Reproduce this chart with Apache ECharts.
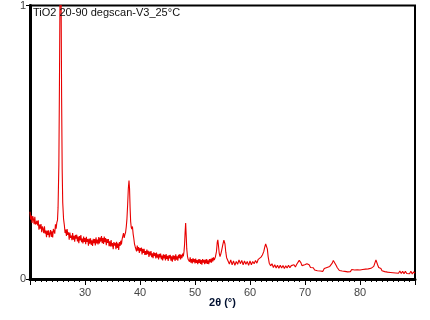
<!DOCTYPE html>
<html>
<head>
<meta charset="utf-8">
<script src="https://cdn.jsdelivr.net/npm/echarts@6/dist/echarts.min.js"></script>
<style>
html,body{margin:0;padding:0;background:#fff;}
#chart{width:430px;height:320px;}
</style>
</head>
<body>
<div id="chart"></div>
<script>
// Chart text
const sampleTitle = 'TiO2 20-90 degscan-V3_25°C';
const xAxisName = '2θ (°)';
// Axis ranges / ticks
const xRange = [20, 90];
const xTickStep = 10;
const yRange = [0, 1];
const yTickStep = 1;
// Diffraction scan: [2θ (deg), normalised intensity]
const scan = [
[20.000,0.246],[20.125,0.217],[20.250,0.232],[20.375,0.205],[20.500,0.230],[20.625,0.219],[20.750,0.200],[20.875,0.227],
[21.000,0.199],[21.125,0.193],[21.250,0.213],[21.375,0.196],[21.500,0.215],[21.625,0.180],[21.750,0.199],[21.875,0.184],
[22.000,0.201],[22.125,0.171],[22.250,0.192],[22.375,0.183],[22.500,0.168],[22.625,0.193],[22.750,0.166],[22.875,0.177],
[23.000,0.153],[23.125,0.177],[23.250,0.161],[23.375,0.178],[23.500,0.152],[23.625,0.167],[23.750,0.179],[23.875,0.154],
[24.000,0.174],[24.125,0.152],[24.250,0.183],[24.375,0.178],[24.500,0.166],[24.625,0.200],[24.750,0.184],[24.875,0.206],
[25.000,0.215],[25.10,0.26],[25.25,0.42],[25.35,0.70],[25.45,1.02],[25.55,1.20],[25.65,1.05],[25.75,0.66],
[25.85,0.40],[25.95,0.28],[26.10,0.22],
[26.250,0.196],[26.375,0.168],[26.500,0.181],[26.625,0.157],[26.750,0.183],[26.875,0.161],[27.000,0.171],[27.125,0.144],
[27.250,0.170],[27.375,0.150],[27.500,0.159],[27.625,0.142],[27.750,0.168],[27.875,0.144],[28.000,0.158],[28.125,0.136],
[28.250,0.161],[28.375,0.148],[28.500,0.162],[28.625,0.137],[28.750,0.155],[28.875,0.131],[29.000,0.157],[29.125,0.141],
[29.250,0.161],[29.375,0.135],[29.500,0.148],[29.625,0.130],[29.750,0.155],[29.875,0.136],[30.000,0.150],[30.125,0.127],
[30.250,0.154],[30.375,0.136],[30.500,0.146],[30.625,0.122],[30.750,0.148],[30.875,0.129],[31.000,0.149],[31.125,0.125],
[31.250,0.141],[31.375,0.121],[31.500,0.147],[31.625,0.131],[31.750,0.146],[31.875,0.123],[32.000,0.152],[32.125,0.130],
[32.250,0.144],[32.375,0.126],[32.500,0.153],[32.625,0.130],[32.750,0.151],[32.875,0.137],[33.000,0.157],[33.125,0.131],
[33.250,0.150],[33.375,0.128],[33.500,0.155],[33.625,0.135],[33.750,0.150],[33.875,0.124],[34.000,0.146],[34.125,0.132],
[34.250,0.146],[34.375,0.120],[34.500,0.138],[34.625,0.119],[34.750,0.142],[34.875,0.119],[35.000,0.131],[35.125,0.109],
[35.250,0.135],[35.375,0.122],[35.500,0.132],[35.625,0.109],[35.750,0.136],[35.875,0.114],[36.000,0.130],[36.125,0.106],
[36.250,0.135],[36.375,0.121],[36.500,0.140],[36.625,0.126],[36.750,0.146],
[36.875,0.152],[37.000,0.168],[37.125,0.150],[37.250,0.162],[37.375,0.170],[37.500,0.19],[37.625,0.22],[37.750,0.27],
[37.875,0.33],[38.000,0.36],[38.100,0.33],[38.200,0.26],[38.300,0.21],[38.400,0.19],[38.500,0.182],[38.625,0.192],
[38.750,0.165],[38.875,0.148],[39.000,0.128],[39.125,0.118],
[39.250,0.118],[39.375,0.101],[39.500,0.122],[39.625,0.104],[39.750,0.117],[39.875,0.095],[40.000,0.113],[40.125,0.102],
[40.250,0.115],[40.375,0.090],[40.500,0.110],[40.625,0.095],[40.750,0.110],[40.875,0.088],[41.000,0.102],[41.125,0.088],
[41.250,0.108],[41.375,0.091],[41.500,0.103],[41.625,0.081],[41.750,0.100],[41.875,0.086],[42.000,0.102],[42.125,0.080],
[42.250,0.094],[42.375,0.076],[42.500,0.098],[42.625,0.084],[42.750,0.095],[42.875,0.075],[43.000,0.097],[43.125,0.078],
[43.250,0.090],[43.375,0.072],[43.500,0.092],[43.625,0.079],[43.750,0.093],[43.875,0.072],[44.000,0.086],[44.125,0.068],
[44.250,0.090],[44.375,0.075],[44.500,0.088],[44.625,0.068],[44.750,0.091],[44.875,0.073],[45.000,0.085],[45.125,0.066],
[45.250,0.087],[45.375,0.075],[45.500,0.088],[45.625,0.067],[45.750,0.083],[45.875,0.063],[46.000,0.087],[46.125,0.072],
[46.250,0.085],[46.375,0.066],[46.500,0.090],[46.625,0.071],[46.750,0.083],[46.875,0.067],[47.000,0.088],[47.125,0.076],
[47.250,0.091],[47.375,0.072],[47.500,0.088],[47.625,0.076],[47.750,0.093],[47.875,0.083],
[48.000,0.10],[48.100,0.125],[48.200,0.17],[48.300,0.205],[48.400,0.16],[48.500,0.11],[48.625,0.084],[48.750,0.072],
[48.875,0.078],[49.000,0.063],[49.125,0.079],[49.250,0.060],[49.375,0.073],[49.500,0.057],[49.625,0.076],[49.750,0.062],
[49.875,0.073],[50.000,0.057],[50.125,0.075],[50.250,0.059],[50.375,0.069],[50.500,0.054],[50.625,0.072],[50.750,0.059],
[50.875,0.073],[51.000,0.055],[51.125,0.069],[51.250,0.052],[51.375,0.073],[51.500,0.060],[51.625,0.070],[51.750,0.054],
[51.875,0.071],[52.000,0.057],[52.125,0.073],[52.250,0.055],[52.375,0.068],[52.500,0.054],[52.625,0.073],[52.750,0.061],
[52.875,0.074],[53.000,0.060],[53.125,0.077],[53.250,0.064],[53.375,0.079],[53.500,0.069],
[53.70,0.080],[53.90,0.10],[54.05,0.135],[54.15,0.143],[54.25,0.125],[54.40,0.095],[54.55,0.082],[54.70,0.092],
[54.85,0.105],[55.05,0.125],[55.25,0.142],[55.35,0.145],[55.45,0.128],[55.60,0.098],[55.75,0.078],[56.00,0.072],
[56.25,0.055],[56.50,0.070],[56.75,0.052],[57.00,0.066],[57.25,0.050],[57.50,0.064],[57.75,0.054],[58.00,0.070],
[58.25,0.056],[58.50,0.068],[58.75,0.052],[59.00,0.066],[59.25,0.054],[59.50,0.064],[59.75,0.050],[60.00,0.066],
[60.25,0.052],[60.50,0.064],[60.75,0.056],[61.00,0.068],[61.25,0.058],[61.50,0.072],[61.75,0.068],
[62.00,0.080],[62.25,0.088],[62.50,0.10],[62.70,0.118],[62.85,0.128],[63.00,0.132],[63.15,0.11],[63.30,0.082],
[63.50,0.058],[63.75,0.048],[64.00,0.056],[64.25,0.042],[64.50,0.052],[64.75,0.040],[65.00,0.050],[65.25,0.039],
[65.50,0.050],[65.75,0.040],[66.00,0.049],[66.25,0.038],[66.50,0.048],[66.75,0.040],[67.00,0.050],[67.25,0.041],
[67.50,0.049],[67.75,0.042],[68.00,0.052],[68.25,0.044],[68.50,0.054],
[68.75,0.058],[68.95,0.068],[69.10,0.070],[69.25,0.060],[69.45,0.049],[69.70,0.044],[69.95,0.052],[70.15,0.046],
[70.35,0.056],[70.55,0.062],[70.75,0.052],[71.00,0.042],[71.25,0.036],[71.50,0.041],[71.75,0.033],[72.00,0.038],
[72.25,0.030],[72.50,0.036],[72.75,0.029],[73.00,0.035],[73.25,0.028],[73.50,0.038],[73.75,0.034],[74.00,0.042],
[74.25,0.038],[74.50,0.046],[74.75,0.050],
[74.95,0.058],[75.15,0.068],[75.30,0.074],[75.45,0.064],[75.65,0.050],[75.85,0.042],[76.00,0.038],[76.25,0.031],
[76.50,0.037],[76.75,0.029],[77.00,0.036],[77.25,0.028],[77.50,0.034],[77.75,0.026],[78.00,0.033],[78.25,0.027],
[78.50,0.035],[78.75,0.028],[79.00,0.033],[79.25,0.026],[79.50,0.034],[79.75,0.028],[80.00,0.033],[80.25,0.027],
[80.50,0.035],[80.75,0.029],[81.00,0.036],[81.25,0.030],[81.50,0.037],[81.75,0.032],[82.00,0.039],[82.25,0.036],
[82.50,0.046],
[82.70,0.058],[82.90,0.070],[83.05,0.066],[83.20,0.052],[83.40,0.042],[83.60,0.035],[83.80,0.038],[84.00,0.030],
[84.25,0.036],[84.50,0.027],[84.75,0.033],[85.00,0.025],[85.25,0.032],[85.50,0.024],[85.75,0.031],[86.00,0.023],
[86.25,0.030],[86.50,0.022],[86.75,0.029],[87.00,0.021],[87.25,0.029],[87.50,0.020],[87.75,0.028],[88.00,0.019],
[88.25,0.028],[88.50,0.020],[88.75,0.027],[89.00,0.019],[89.25,0.028],[89.50,0.018],[89.75,0.026],[90.00,0.021]
];

const chart = echarts.init(document.getElementById('chart'), null, {renderer: 'canvas'});
const labelFont = {fontFamily: 'Liberation Sans, Arial, sans-serif', fontSize: 11, color: '#444'};
chart.setOption({
  animation: false,
  backgroundColor: '#fff',
  title: {
    text: sampleTitle,
    left: 33, top: 7, padding: 0,
    textStyle: {fontFamily: 'Liberation Sans, Arial, sans-serif', fontSize: 11, fontWeight: 'normal', color: '#111'}
  },
  grid: {left: 30, right: 15, top: 4, bottom: 41, show: true, borderColor: '#000', borderWidth: 2, backgroundColor: 'transparent'},
  xAxis: {
    type: 'value', min: xRange[0], max: xRange[1], interval: xTickStep,
    name: xAxisName, nameLocation: 'middle', nameGap: 18, nameMoveOverlap: false,
    nameTextStyle: {fontFamily: 'Liberation Sans, Arial, sans-serif', fontSize: 11, fontWeight: 'bold', color: '#001030', verticalAlign: 'top'},
    axisLine: {show: true, onZero: false, lineStyle: {color: '#000', width: 3}},
    axisTick: {show: true, inside: false, length: 6, lineStyle: {color: '#000', width: 1}},
    minorTick: {show: true, splitNumber: 10, length: 3, lineStyle: {color: '#000', width: 1}},
    axisLabel: Object.assign({showMinLabel: false, showMaxLabel: false, margin: 8}, labelFont),
    splitLine: {show: false}
  },
  yAxis: {
    type: 'value', min: yRange[0], max: yRange[1], interval: yTickStep,
    axisLine: {show: true, onZero: false, lineStyle: {color: '#000', width: 3}},
    axisTick: {show: true, inside: false, length: 4, lineStyle: {color: '#000', width: 1}},
    axisLabel: Object.assign({margin: 4}, labelFont),
    splitLine: {show: false}
  },
  series: [{
    type: 'line',
    data: scan,
    showSymbol: false,
    symbol: 'none',
    clip: true,
    lineStyle: {color: '#e80000', width: 1.1},
    itemStyle: {color: '#e80000'}
  }]
});
</script>
</body>
</html>
